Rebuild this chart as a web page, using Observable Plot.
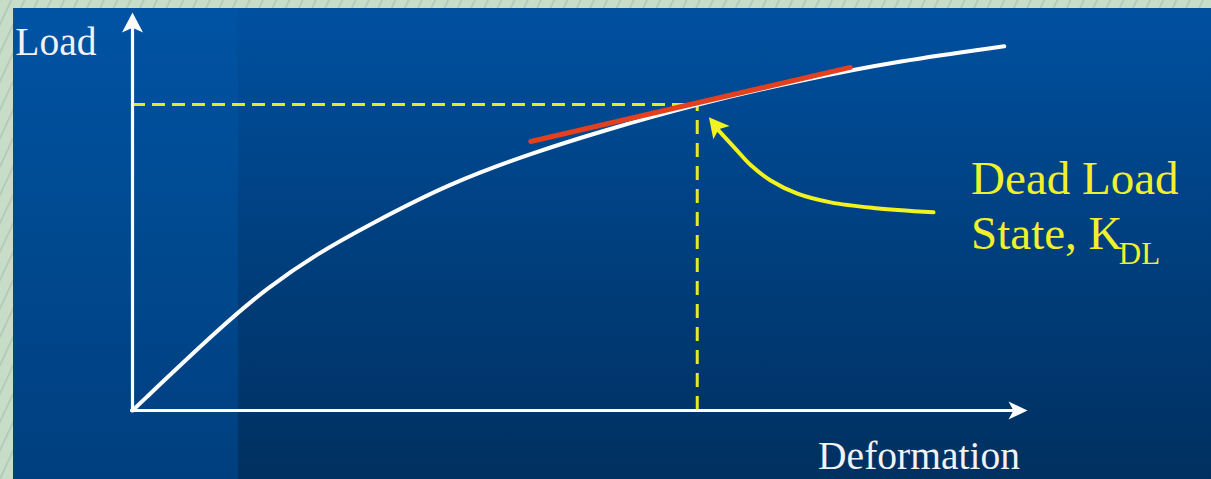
<!DOCTYPE html>
<html>
<head>
<meta charset="utf-8">
<script src="https://cdn.jsdelivr.net/npm/d3@7"></script>
<script src="https://cdn.jsdelivr.net/npm/@observablehq/plot@0.6"></script>
<style>
  html, body { margin: 0; padding: 0; }
  body { width: 1211px; height: 479px; overflow: hidden; background: #c3d9c5; }
  #wrap { position: relative; width: 1211px; height: 479px; }
  #border { position: absolute; left: 0; top: 0; right: 0; bottom: 0;
    background: repeating-linear-gradient(115deg, #c8ddc8 0px, #c8ddc8 9px, #aec6b6 10px, #c8ddc8 12px); }
  #panel { position: absolute; left: 13px; top: 8px; right: 0; bottom: 0;
    background: linear-gradient(to bottom, #0050a0 0%, #003f7e 50%, #003060 100%); }
  #strip { position: absolute; left: 13px; top: 8px; width: 225px; bottom: 0;
    background: linear-gradient(to bottom, #0053a4 0%, #00498f 50%, #003f7f 100%); }
  #chart { position: absolute; left: 0; top: 0; }
</style>
</head>
<body>
<div id="wrap">
  <div id="border"></div>
  <div id="panel"></div>
  <div id="strip"></div>
  <div id="chart"></div>
</div>
<script>
// Load–deformation curve (arbitrary units, 0–100 on each axis)
const curveDeformation = [0, 9.8, 15.1, 20.7, 26.3, 35.5, 44.8, 52.3, 62.9, 74.6, 85.8, 97.4];
const curveLoad        = [0, 20.9, 30.9, 39.5, 46.5, 57.2, 64.8, 70.1, 76.9, 83.0, 87.9, 91.5];

// Tangent at the dead load state
const tangentDeformation = [44.5, 80.2];
const tangentLoad        = [67.6, 86.2];

// Dead load state point
const deadLoadDeformation = 63.1;
const deadLoadLoad        = 76.9;

// Pointer arrow (from label to the point)
const pointerDeformation = [89.5, 82.8, 78.0, 74.3, 71.3, 69.1, 67.2, 65.3];
const pointerLoad        = [49.8, 50.9, 52.3, 54.5, 57.8, 61.6, 66.2, 70.8];
const pointerTip = {x: 64.4, y: 73.7};

// Axis extents
const axisMax = 100;

// Labels
const axisLabels = [
  {text: "Load", x: -13.1, y: 89.2},
  {text: "Deformation", x: 76.6, y: -14.6}
];
const stateLabels = [
  {text: "Dead Load", x: 93.7, y: 54.5},
  {text: "State, K", x: 93.7, y: 40.7}
];
const subLabels = [
  {text: "DL", x: 110.2, y: 36.9}
];

const curve = curveDeformation.map((d, i) => ({x: d, y: curveLoad[i]}));
const tangent = tangentDeformation.map((d, i) => ({x: d, y: tangentLoad[i]}));
const pointer = pointerDeformation.map((d, i) => ({x: d, y: pointerLoad[i]}));

// Arrowhead symbol factory: tip at origin pointing up
function head(L, W, notch) {
  return {
    draw(ctx) {
      ctx.moveTo(0, 0);
      ctx.lineTo(W, L);
      ctx.lineTo(0, L * notch);
      ctx.lineTo(-W, L);
      ctx.closePath();
    }
  };
}

const serif = "'Liberation Serif', 'Times New Roman', 'DejaVu Serif', serif";
const yellowDash = "#e8e82a";
const yellow = "#f2f21e";

const chart = Plot.plot({
  width: 1211,
  height: 479,
  margin: 0,
  x: {domain: [0, axisMax], range: [132, 1027], axis: null},
  y: {domain: [0, axisMax], range: [410, 12], axis: null},
  style: {background: "transparent", overflow: "visible", fontFamily: serif},
  marks: [
    // dashed guide lines
    Plot.ruleY([deadLoadLoad], {x1: 0, x2: deadLoadDeformation, stroke: yellowDash, strokeWidth: 3, strokeDasharray: "13,7"}),
    Plot.ruleX([deadLoadDeformation], {y1: 0, y2: deadLoadLoad, stroke: yellowDash, strokeWidth: 3, strokeDasharray: "14,9"}),
    // axes
    Plot.ruleX([0], {y1: 0, y2: axisMax - 3, stroke: "#ffffff", strokeWidth: 3.2}),
    Plot.ruleY([0], {x1: -0.2, x2: axisMax - 1.5, stroke: "#ffffff", strokeWidth: 3.2}),
    Plot.dot([{x: 0, y: axisMax}], {x: "x", y: "y", symbol: head(20, 10.5, 0.76), fill: "#ffffff", stroke: "none", rotate: 0}),
    Plot.dot([{x: axisMax, y: 0}], {x: "x", y: "y", symbol: head(19, 9, 0.74), fill: "#ffffff", stroke: "none", rotate: 90}),
    // curve
    Plot.line(curve, {x: "x", y: "y", stroke: "#ffffff", strokeWidth: 4, curve: "basis"}),
    // tangent
    Plot.line(tangent, {x: "x", y: "y", stroke: "#e2401e", strokeWidth: 5}),
    // pointer arrow
    Plot.line(pointer, {x: "x", y: "y", stroke: yellow, strokeWidth: 4, curve: "catmull-rom"}),
    Plot.dot([pointerTip], {x: "x", y: "y", symbol: head(20, 10.5, 0.78), fill: yellow, stroke: "none", rotate: -39}),
    // labels
    Plot.text(axisLabels, {x: "x", y: "y", text: "text", fill: "#f2f2f2", fontSize: 39.5, textAnchor: "start", lineAnchor: "bottom", fontFamily: serif}),
    Plot.text(stateLabels, {x: "x", y: "y", text: "text", fill: "#f0f02c", fontSize: 47, textAnchor: "start", lineAnchor: "bottom", fontFamily: serif}),
    Plot.text(subLabels, {x: "x", y: "y", text: "text", fill: "#f0f02c", fontSize: 31, textAnchor: "start", lineAnchor: "bottom", fontFamily: serif})
  ]
});
document.getElementById("chart").appendChild(chart);
</script>
</body>
</html>
